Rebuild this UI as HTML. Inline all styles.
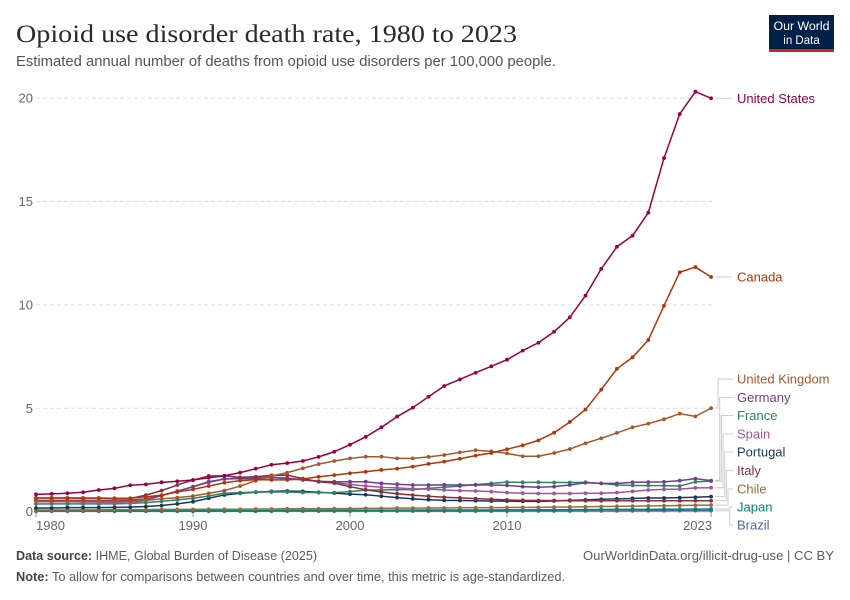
<!DOCTYPE html>
<html><head><meta charset="utf-8"><style>
html,body{margin:0;padding:0;background:#fff;}
svg{display:block;font-family:"Liberation Sans",sans-serif;}
</style></head><body>
<svg width="850" height="600" viewBox="0 0 850 600" xmlns="http://www.w3.org/2000/svg">
<rect width="850" height="600" fill="#fff"/>
<text x="16" y="42" font-family="Liberation Serif,serif" font-size="25" fill="#2a2a2a" textLength="501" lengthAdjust="spacingAndGlyphs">Opioid use disorder death rate, 1980 to 2023</text>
<text x="16" y="66" font-size="14.5" fill="#555" textLength="540" lengthAdjust="spacingAndGlyphs">Estimated annual number of deaths from opioid use disorders per 100,000 people.</text>
<rect x="769" y="15" width="65" height="37" fill="#002147"/>
<rect x="769" y="49" width="65" height="3" fill="#ce261e"/>
<text x="801.5" y="30" font-size="11.5" fill="#fff" text-anchor="middle" textLength="56" lengthAdjust="spacingAndGlyphs">Our World</text>
<text x="801.5" y="44" font-size="11.5" fill="#fff" text-anchor="middle">in Data</text>
<g stroke="#ddd" stroke-width="1" stroke-dasharray="4,3">
<line x1="36" x2="712" y1="98.1" y2="98.1"/>
<line x1="36" x2="712" y1="201.5" y2="201.5"/>
<line x1="36" x2="712" y1="304.9" y2="304.9"/>
<line x1="36" x2="712" y1="408.3" y2="408.3"/>
</g>
<line x1="36" x2="712" y1="511.7" y2="511.7" stroke="#bbb" stroke-width="1"/>
<g font-size="13" fill="#666" text-anchor="end">
<text x="33" y="102.6">20</text>
<text x="33" y="206">15</text>
<text x="33" y="309.4">10</text>
<text x="33" y="412.8">5</text>
<text x="33" y="516.2">0</text>
</g>
<g stroke="#999" stroke-width="1">
<line x1="36" x2="36" y1="512" y2="517"/>
<line x1="193" x2="193" y1="512" y2="517"/>
<line x1="350" x2="350" y1="512" y2="517"/>
<line x1="507" x2="507" y1="512" y2="517"/>
<line x1="711.1" x2="711.1" y1="512" y2="517"/>
</g>
<g font-size="13" fill="#666">
<text x="36" y="530">1980</text>
<text x="193" y="530" text-anchor="middle">1990</text>
<text x="350" y="530" text-anchor="middle">2000</text>
<text x="507" y="530" text-anchor="middle">2010</text>
<text x="712" y="530" text-anchor="end">2023</text>
</g>
<defs>
<marker id="m0" markerUnits="userSpaceOnUse" overflow="visible" refX="0" refY="0" markerWidth="1" markerHeight="1"><ellipse cx="0" cy="0" rx="0.121" ry="0.092" fill="#970046"/></marker>
<marker id="m1" markerUnits="userSpaceOnUse" overflow="visible" refX="0" refY="0" markerWidth="1" markerHeight="1"><ellipse cx="0" cy="0" rx="0.121" ry="0.092" fill="#B13507"/></marker>
<marker id="m2" markerUnits="userSpaceOnUse" overflow="visible" refX="0" refY="0" markerWidth="1" markerHeight="1"><ellipse cx="0" cy="0" rx="0.121" ry="0.092" fill="#A8572B"/></marker>
<marker id="m3" markerUnits="userSpaceOnUse" overflow="visible" refX="0" refY="0" markerWidth="1" markerHeight="1"><ellipse cx="0" cy="0" rx="0.121" ry="0.092" fill="#6D3E91"/></marker>
<marker id="m4" markerUnits="userSpaceOnUse" overflow="visible" refX="0" refY="0" markerWidth="1" markerHeight="1"><ellipse cx="0" cy="0" rx="0.121" ry="0.092" fill="#2C8465"/></marker>
<marker id="m5" markerUnits="userSpaceOnUse" overflow="visible" refX="0" refY="0" markerWidth="1" markerHeight="1"><ellipse cx="0" cy="0" rx="0.121" ry="0.092" fill="#A2559C"/></marker>
<marker id="m6" markerUnits="userSpaceOnUse" overflow="visible" refX="0" refY="0" markerWidth="1" markerHeight="1"><ellipse cx="0" cy="0" rx="0.121" ry="0.092" fill="#18375F"/></marker>
<marker id="m7" markerUnits="userSpaceOnUse" overflow="visible" refX="0" refY="0" markerWidth="1" markerHeight="1"><ellipse cx="0" cy="0" rx="0.121" ry="0.092" fill="#883039"/></marker>
<marker id="m8" markerUnits="userSpaceOnUse" overflow="visible" refX="0" refY="0" markerWidth="1" markerHeight="1"><ellipse cx="0" cy="0" rx="0.121" ry="0.092" fill="#996D39"/></marker>
<marker id="m9" markerUnits="userSpaceOnUse" overflow="visible" refX="0" refY="0" markerWidth="1" markerHeight="1"><ellipse cx="0" cy="0" rx="0.121" ry="0.092" fill="#00847E"/></marker>
<marker id="m10" markerUnits="userSpaceOnUse" overflow="visible" refX="0" refY="0" markerWidth="1" markerHeight="1"><ellipse cx="0" cy="0" rx="0.121" ry="0.092" fill="#4C6A9C"/></marker>
</defs>
<g transform="translate(36,511.7) scale(15.7,-20.68)" fill="none" stroke-width="1.5" stroke-linejoin="round">
<polyline vector-effect="non-scaling-stroke" stroke="#4C6A9C" marker-start="url(#m10)" marker-mid="url(#m10)" marker-end="url(#m10)" points="0,0.02 1,0.02 2,0.02 3,0.02 4,0.02 5,0.02 6,0.02 7,0.02 8,0.02 9,0.02 10,0.02 11,0.02 12,0.02 13,0.02 14,0.02 15,0.025 16,0.025 17,0.025 18,0.025 19,0.025 20,0.025 21,0.03 22,0.03 23,0.03 24,0.03 25,0.03 26,0.03 27,0.03 28,0.03 29,0.03 30,0.03 31,0.035 32,0.035 33,0.035 34,0.035 35,0.04 36,0.04 37,0.04 38,0.04 39,0.045 40,0.045 41,0.05 42,0.05 43,0.05"/>
<polyline vector-effect="non-scaling-stroke" stroke="#00847E" marker-start="url(#m9)" marker-mid="url(#m9)" marker-end="url(#m9)" points="0,0.05 1,0.05 2,0.05 3,0.05 4,0.05 5,0.05 6,0.05 7,0.05 8,0.05 9,0.05 10,0.055 11,0.055 12,0.055 13,0.06 14,0.06 15,0.06 16,0.065 17,0.065 18,0.065 19,0.07 20,0.07 21,0.07 22,0.07 23,0.075 24,0.075 25,0.08 26,0.08 27,0.08 28,0.085 29,0.085 30,0.09 31,0.09 32,0.095 33,0.095 34,0.1 35,0.1 36,0.105 37,0.11 38,0.11 39,0.115 40,0.12 41,0.12 42,0.125 43,0.13"/>
<polyline vector-effect="non-scaling-stroke" stroke="#996D39" marker-start="url(#m8)" marker-mid="url(#m8)" marker-end="url(#m8)" points="0,0.08 1,0.08 2,0.09 3,0.09 4,0.09 5,0.1 6,0.1 7,0.1 8,0.11 9,0.11 10,0.11 11,0.12 12,0.12 13,0.12 14,0.13 15,0.13 16,0.14 17,0.14 18,0.14 19,0.15 20,0.15 21,0.16 22,0.16 23,0.17 24,0.17 25,0.18 26,0.18 27,0.19 28,0.19 29,0.2 30,0.2 31,0.21 32,0.21 33,0.22 34,0.23 35,0.24 36,0.25 37,0.26 38,0.27 39,0.28 40,0.29 41,0.3 42,0.31 43,0.32"/>
<polyline vector-effect="non-scaling-stroke" stroke="#18375F" marker-start="url(#m6)" marker-mid="url(#m6)" marker-end="url(#m6)" points="0,0.18 1,0.18 2,0.2 3,0.2 4,0.2 5,0.21 6,0.22 7,0.25 8,0.3 9,0.38 10,0.48 11,0.65 12,0.81 13,0.89 14,0.94 15,0.98 16,1.0 17,0.98 18,0.94 19,0.9 20,0.85 21,0.82 22,0.75 23,0.68 24,0.62 25,0.58 26,0.55 27,0.54 28,0.53 29,0.52 30,0.51 31,0.5 32,0.5 33,0.52 34,0.55 35,0.57 36,0.6 37,0.62 38,0.64 39,0.66 40,0.66 41,0.68 42,0.7 43,0.73"/>
<polyline vector-effect="non-scaling-stroke" stroke="#2C8465" marker-start="url(#m4)" marker-mid="url(#m4)" marker-end="url(#m4)" points="0,0.37 1,0.38 2,0.38 3,0.38 4,0.38 5,0.38 6,0.4 7,0.44 8,0.5 9,0.57 10,0.65 11,0.76 12,0.89 13,0.92 14,0.95 15,0.95 16,0.95 17,0.93 18,0.92 19,0.92 20,0.97 21,1.05 22,1.05 23,1.07 24,1.07 25,1.13 26,1.18 27,1.24 28,1.31 29,1.37 30,1.43 31,1.42 32,1.42 33,1.41 34,1.41 35,1.42 36,1.37 37,1.29 38,1.27 39,1.26 40,1.26 41,1.24 42,1.44 43,1.48"/>
<polyline vector-effect="non-scaling-stroke" stroke="#A2559C" marker-start="url(#m5)" marker-mid="url(#m5)" marker-end="url(#m5)" points="0,0.48 1,0.48 2,0.48 3,0.47 4,0.46 5,0.44 6,0.42 7,0.55 8,0.78 9,1.0 10,1.2 11,1.42 12,1.58 13,1.63 14,1.66 15,1.68 16,1.63 17,1.55 18,1.47 19,1.4 20,1.32 21,1.24 22,1.18 23,1.15 24,1.11 25,1.09 26,1.05 27,1.02 28,1.0 29,0.97 30,0.92 31,0.89 32,0.88 33,0.88 34,0.88 35,0.89 36,0.89 37,0.92 38,0.98 39,1.05 40,1.08 41,1.09 42,1.15 43,1.16"/>
<polyline vector-effect="non-scaling-stroke" stroke="#6D3E91" marker-start="url(#m3)" marker-mid="url(#m3)" marker-end="url(#m3)" points="0,0.55 1,0.55 2,0.55 3,0.55 4,0.55 5,0.55 6,0.56 7,0.62 8,0.78 9,0.98 10,1.21 11,1.45 12,1.58 13,1.6 14,1.6 15,1.65 16,1.6 17,1.53 18,1.47 19,1.45 20,1.45 21,1.45 22,1.37 23,1.33 24,1.29 25,1.29 26,1.3 27,1.29 28,1.29 29,1.29 30,1.27 31,1.21 32,1.18 33,1.21 34,1.29 35,1.4 36,1.37 37,1.37 38,1.42 39,1.43 40,1.44 41,1.5 42,1.6 43,1.5"/>
<polyline vector-effect="non-scaling-stroke" stroke="#883039" marker-start="url(#m7)" marker-mid="url(#m7)" marker-end="url(#m7)" points="0,0.66 1,0.66 2,0.66 3,0.65 4,0.65 5,0.64 6,0.64 7,0.8 8,1.02 9,1.29 10,1.53 11,1.73 12,1.73 13,1.66 14,1.69 15,1.76 16,1.77 17,1.6 18,1.45 19,1.38 20,1.21 21,1.06 22,0.95 23,0.87 24,0.8 25,0.75 26,0.7 27,0.67 28,0.63 29,0.6 30,0.57 31,0.55 32,0.54 33,0.54 34,0.53 35,0.53 36,0.53 37,0.53 38,0.53 39,0.53 40,0.53 41,0.53 42,0.53 43,0.53"/>
<polyline vector-effect="non-scaling-stroke" stroke="#A8572B" marker-start="url(#m2)" marker-mid="url(#m2)" marker-end="url(#m2)" points="0,0.5 1,0.5 2,0.5 3,0.5 4,0.5 5,0.5 6,0.5 7,0.55 8,0.62 9,0.68 10,0.76 11,0.89 12,1.02 13,1.24 14,1.5 15,1.73 16,1.89 17,2.1 18,2.3 19,2.45 20,2.58 21,2.66 22,2.66 23,2.58 24,2.58 25,2.65 26,2.74 27,2.87 28,2.97 29,2.92 30,2.82 31,2.68 32,2.68 33,2.84 34,3.03 35,3.31 36,3.55 37,3.81 38,4.08 39,4.26 40,4.47 41,4.74 42,4.61 43,5.01"/>
<polyline vector-effect="non-scaling-stroke" stroke="#B13507" marker-start="url(#m1)" marker-mid="url(#m1)" marker-end="url(#m1)" points="0,0.66 1,0.66 2,0.66 3,0.66 4,0.66 5,0.65 6,0.65 7,0.72 8,0.8 9,0.95 10,1.08 11,1.24 12,1.4 13,1.5 14,1.55 15,1.54 16,1.54 17,1.58 18,1.69 19,1.77 20,1.86 21,1.93 22,2.02 23,2.08 24,2.18 25,2.31 26,2.42 27,2.56 28,2.71 29,2.84 30,3.02 31,3.21 32,3.45 33,3.82 34,4.34 35,4.94 36,5.9 37,6.91 38,7.47 39,8.3 40,9.96 41,11.58 42,11.83 43,11.35"/>
<polyline vector-effect="non-scaling-stroke" stroke="#970046" marker-start="url(#m0)" marker-mid="url(#m0)" marker-end="url(#m0)" points="0,0.84 1,0.86 2,0.89 3,0.94 4,1.05 5,1.13 6,1.28 7,1.32 8,1.42 9,1.47 10,1.53 11,1.64 12,1.74 13,1.89 14,2.08 15,2.27 16,2.35 17,2.45 18,2.65 19,2.9 20,3.24 21,3.62 22,4.08 23,4.6 24,5.03 25,5.56 26,6.08 27,6.4 28,6.72 29,7.03 30,7.35 31,7.79 32,8.17 33,8.7 34,9.4 35,10.45 36,11.74 37,12.81 38,13.35 39,14.46 40,17.1 41,19.23 42,20.31 43,19.99"/>
</g>
<g fill="none" stroke="#ccc" stroke-width="1">
<path d="M716,98.3 H732"/>
<path d="M716,277 H732"/>
<path d="M715,408.1 H718 V379 H733"/>
<path d="M715,480.2 H719.7 V397.5 H733"/>
<path d="M715,481.3 H721.3 V415.5 H733"/>
<path d="M715,487.7 H723 V434 H733"/>
<path d="M715,496.6 H724.7 V452 H733"/>
<path d="M715,500.7 H726.3 V470.5 H733"/>
<path d="M715,505.1 H728 V489 H733"/>
<path d="M715,509 H729.7 V507 H733"/>
<path d="M715,510.7 H729.7 V525 H733"/>
</g>
<g font-size="13">
<text x="737" y="102.8" fill="#970046">United States</text>
<text x="737" y="281.5" fill="#B13507">Canada</text>
<text x="737" y="383.5" fill="#A8572B">United Kingdom</text>
<text x="737" y="402" fill="#6D3E91">Germany</text>
<text x="737" y="420" fill="#2C8465">France</text>
<text x="737" y="438.5" fill="#A2559C">Spain</text>
<text x="737" y="456.5" fill="#18375F">Portugal</text>
<text x="737" y="475" fill="#883039">Italy</text>
<text x="737" y="493.5" fill="#996D39">Chile</text>
<text x="737" y="511.5" fill="#00847E">Japan</text>
<text x="737" y="529.5" fill="#4C6A9C">Brazil</text>
</g>
<text x="16" y="560" font-size="12.5" fill="#5b5b5b" textLength="301" lengthAdjust="spacingAndGlyphs"><tspan font-weight="bold" fill="#444">Data source:</tspan> IHME, Global Burden of Disease (2025)</text>
<text x="583" y="560" font-size="12.5" fill="#5b5b5b" textLength="251" lengthAdjust="spacingAndGlyphs">OurWorldinData.org/illicit-drug-use | CC BY</text>
<text x="16" y="581" font-size="12.5" fill="#5b5b5b" textLength="549" lengthAdjust="spacingAndGlyphs"><tspan font-weight="bold" fill="#444">Note:</tspan> To allow for comparisons between countries and over time, this metric is age-standardized.</text>
</svg>
</body></html>
